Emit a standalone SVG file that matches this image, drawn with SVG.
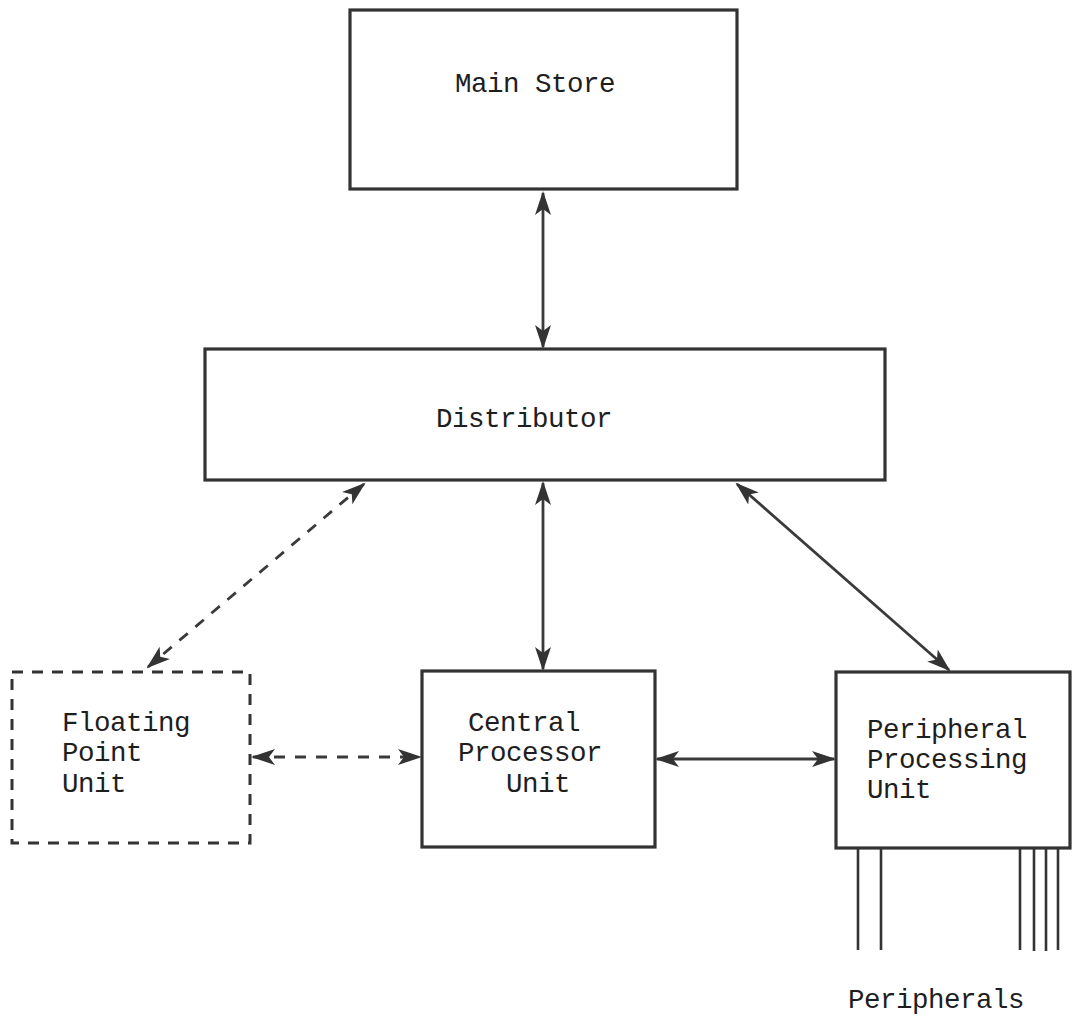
<svg xmlns="http://www.w3.org/2000/svg" width="1072" height="1016" viewBox="0 0 1072 1016">
<style>
.box{fill:none;stroke:#333;stroke-width:3.2}
.dbox{fill:none;stroke:#333;stroke-width:3;stroke-dasharray:11 9}
.t{font-family:"Liberation Mono","Courier New",monospace;font-size:27.5px;letter-spacing:-0.5px;fill:#1e1e1e}
.c{fill:none;stroke:#3a3a3a;stroke-width:2.8}
.d{stroke-dasharray:11 10}
.p{stroke:#333;stroke-width:2.6}
</style>
<defs>
<marker id="ah" markerUnits="userSpaceOnUse" markerWidth="26" markerHeight="18" refX="22" refY="8" orient="auto-start-reverse" viewBox="0 0 26 16">
<path d="M0,0 L24,8 L0,16 L6,8 z" fill="#333"/>
</marker>
</defs>
<rect width="1072" height="1016" fill="#fff"/>
<g id="connectors">
<line class="c" x1="543" y1="193" x2="543" y2="347" marker-start="url(#ah)" marker-end="url(#ah)"/>
<line class="c" x1="543" y1="483" x2="543" y2="669" marker-start="url(#ah)" marker-end="url(#ah)"/>
<line class="c d" x1="364" y1="484" x2="148" y2="667" marker-start="url(#ah)" marker-end="url(#ah)"/>
<line class="c" x1="737" y1="484" x2="949" y2="670" marker-start="url(#ah)" marker-end="url(#ah)"/>
<line class="c d" x1="253" y1="757" x2="420" y2="757" marker-start="url(#ah)" marker-end="url(#ah)"/>
<line class="c" x1="657" y1="759" x2="834" y2="759" marker-start="url(#ah)" marker-end="url(#ah)"/>
</g>
<g id="main-store">
<rect class="box" x="350" y="10" width="387" height="179"/>
<text class="t" x="455" y="92">Main Store</text>
</g>
<g id="distributor">
<rect class="box" x="205" y="349" width="680" height="131"/>
<text class="t" x="436" y="427">Distributor</text>
</g>
<g id="floating-point-unit">
<rect class="dbox" x="12" y="672" width="238" height="171"/>
<text class="t" x="62" y="731">Floating</text>
<text class="t" x="62" y="761">Point</text>
<text class="t" x="62" y="792">Unit</text>
</g>
<g id="central-processor-unit">
<rect class="box" x="422" y="671" width="233" height="176"/>
<text class="t" x="468" y="731">Central</text>
<text class="t" x="458" y="761">Processor</text>
<text class="t" x="506" y="792">Unit</text>
</g>
<g id="peripheral-processing-unit">
<rect class="box" x="836" y="672" width="234" height="176"/>
<text class="t" x="867" y="738">Peripheral</text>
<text class="t" x="867" y="768">Processing</text>
<text class="t" x="867" y="798">Unit</text>
</g>
<g id="peripherals">
<line class="p" x1="858" y1="849" x2="858" y2="950"/>
<line class="p" x1="881" y1="849" x2="881" y2="950"/>
<line class="p" x1="1020" y1="849" x2="1020" y2="950"/>
<line class="p" x1="1034" y1="849" x2="1034" y2="951"/>
<line class="p" x1="1046" y1="849" x2="1046" y2="951"/>
<line class="p" x1="1058" y1="849" x2="1058" y2="950"/>
<text class="t" x="848" y="1008">Peripherals</text>
</g>
</svg>
